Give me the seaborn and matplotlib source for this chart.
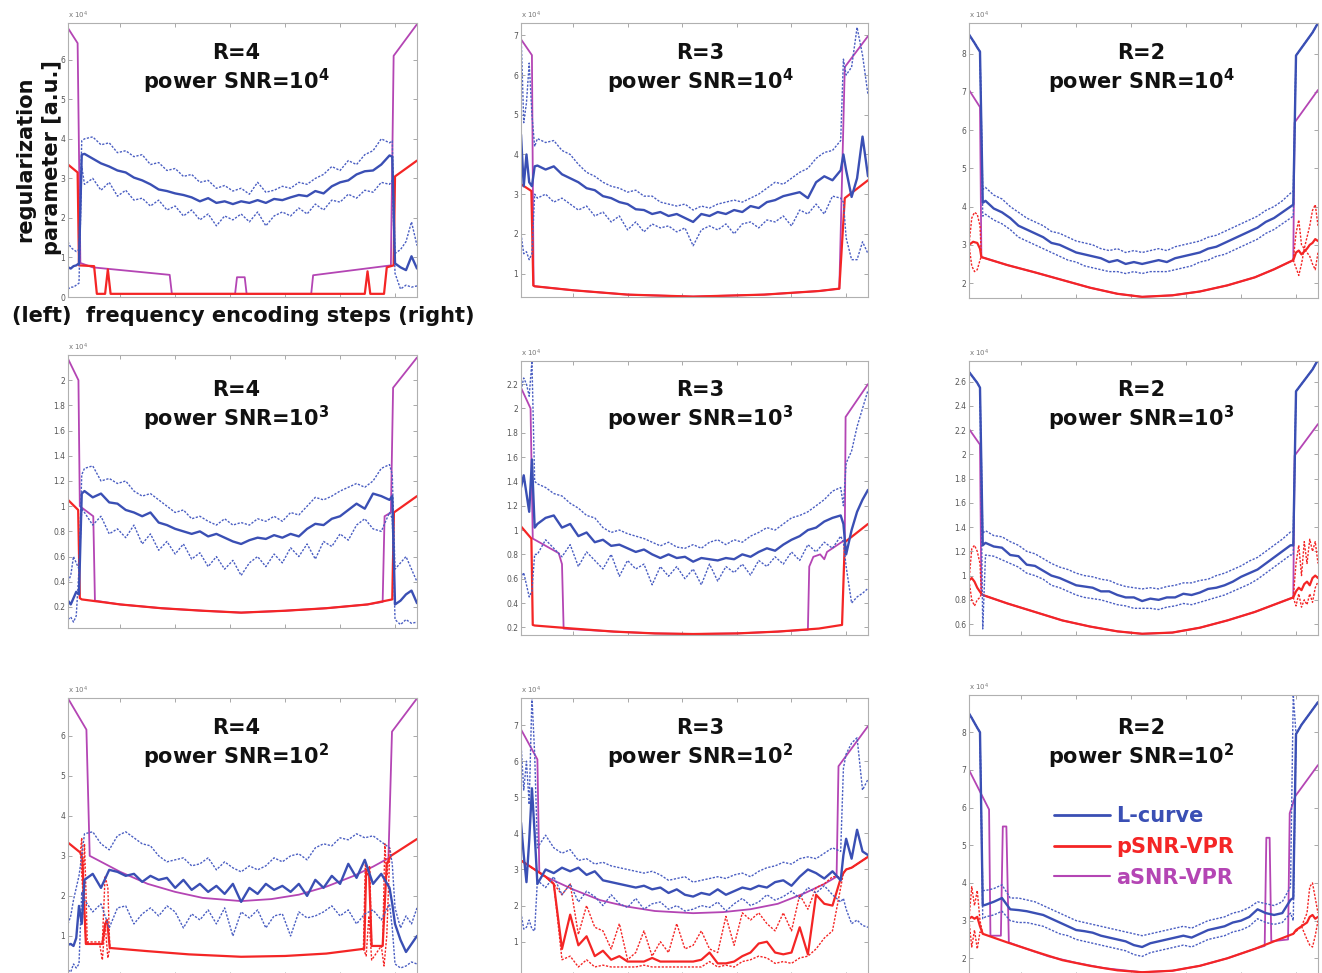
import numpy as np
import matplotlib
matplotlib.use("Agg")
import matplotlib.pyplot as plt
from matplotlib.lines import Line2D
from matplotlib.ticker import FormatStrFormatter
import seaborn as sns

# ------------------------------------------------------------------ data
# frequency-encoding step grid used by the noisy (L-curve) series
X_LEFT = [1, 2, 3, 4, 5, 6]
X_MID = [7, 10, 13, 16, 19, 22, 25, 28, 31, 34, 37, 40, 43, 46, 49, 52, 55, 58, 61,
         64, 67, 70, 73, 76, 79, 82, 85, 88, 91, 94, 97, 100, 103, 106, 109, 112, 115, 118]
X_RIGHT = [119, 120, 122, 124, 126, 128]
X_GRID = X_LEFT + X_MID + X_RIGHT

R_VALUES = [4, 3, 2]          # columns
SNR_EXPONENTS = [4, 3, 2]     # rows
LEGEND_LABELS = ["L-curve", "pSNR-VPR", "aSNR-VPR"]

# ---- R=4, power SNR=10^4
R4_S4_BLUE = [0.75, 0.72, 0.78, 0.80, 0.85, 3.60,
              3.62, 3.50, 3.38, 3.30, 3.20, 3.15, 3.02, 2.95, 2.85, 2.72,
              2.68, 2.62, 2.58, 2.52, 2.42, 2.50, 2.38, 2.42, 2.35, 2.42,
              2.38, 2.45, 2.38, 2.48, 2.45, 2.52, 2.58, 2.55, 2.68, 2.62,
              2.80, 2.90, 2.95, 3.10, 3.18, 3.20, 3.35, 3.58,
              3.55, 0.85, 0.75, 0.68, 1.03, 0.72]
R4_S4_HI = [1.40, 1.25, 1.20, 1.15, 1.20, 3.95,
            4.00, 4.05, 3.85, 3.90, 3.65, 3.70, 3.55, 3.60, 3.35, 3.40,
            3.20, 3.25, 3.05, 3.10, 2.90, 2.95, 2.75, 2.82, 2.68, 2.75,
            2.60, 2.90, 2.65, 2.70, 2.80, 2.75, 2.90, 2.85, 3.00, 3.10,
            3.30, 3.20, 3.45, 3.35, 3.60, 3.70, 4.00, 3.90,
            3.95, 1.10, 1.20, 1.40, 1.90, 1.30]
R4_S4_LO = [0.20, 0.25, 0.25, 0.30, 0.35, 3.30,
            2.85, 3.00, 2.70, 2.90, 2.55, 2.70, 2.45, 2.50, 2.30, 2.45,
            2.20, 2.30, 2.05, 2.20, 1.95, 2.10, 1.80, 2.05, 1.95, 2.10,
            1.90, 2.15, 1.80, 2.05, 2.15, 2.05, 2.25, 2.10, 2.35, 2.20,
            2.45, 2.40, 2.60, 2.50, 2.70, 2.65, 2.90, 2.85,
            2.95, 0.60, 0.20, 0.30, 0.25, 0.28]
R4_S4_RED_X = [1, 4.5, 5, 10.5, 11.5, 14.5, 15.5, 16.5, 109, 110, 111, 116, 117, 119.5, 120, 128]
R4_S4_RED_Y = [3.35, 3.15, 0.80, 0.78, 0.08, 0.08, 0.70, 0.08, 0.08, 0.65, 0.08, 0.08, 0.75, 0.80, 3.05, 3.45]
R4_S4_PUR_X = [1, 4.5, 5.5, 10, 38, 38.8, 61.8, 62.5, 65.3, 66, 89.5, 90.2, 118.5, 119.5, 128]
R4_S4_PUR_Y = [6.80, 6.42, 0.86, 0.75, 0.56, 0.08, 0.08, 0.50, 0.50, 0.08, 0.08, 0.55, 0.80, 6.10, 6.90]

# ---- R=3, power SNR=10^4
R3_S4_BLUE = [4.50, 3.20, 4.00, 3.30, 3.20, 3.70,
              3.72, 3.62, 3.70, 3.50, 3.40, 3.30, 3.15, 3.10, 2.95, 2.90,
              2.80, 2.75, 2.62, 2.60, 2.50, 2.55, 2.45, 2.50, 2.40, 2.30,
              2.50, 2.45, 2.55, 2.50, 2.60, 2.55, 2.70, 2.65, 2.80, 2.85,
              2.95, 3.00, 3.05, 2.90, 3.30, 3.45, 3.35, 3.60,
              4.00, 3.60, 2.93, 3.40, 4.45, 3.45]
R3_S4_HI = [7.10, 4.80, 5.30, 6.30, 5.00, 4.20,
            4.40, 4.30, 4.35, 4.10, 4.00, 3.75, 3.55, 3.45, 3.30, 3.20,
            3.15, 3.05, 3.10, 2.95, 2.95, 2.80, 2.75, 2.70, 2.75, 2.60,
            2.70, 2.65, 2.75, 2.80, 2.85, 2.80, 2.90, 3.00, 3.15, 3.30,
            3.25, 3.40, 3.55, 3.65, 3.90, 4.05, 4.10, 4.35,
            6.40, 6.00, 6.20, 7.20, 6.50, 5.50]
R3_S4_LO = [2.00, 1.50, 1.55, 1.35, 1.50, 3.00,
            2.90, 3.00, 2.80, 2.90, 2.75, 2.60, 2.70, 2.45, 2.55, 2.30,
            2.45, 2.10, 2.30, 2.05, 2.25, 2.15, 2.20, 2.05, 2.15, 1.70,
            2.10, 2.20, 2.10, 2.25, 2.00, 2.25, 2.30, 2.15, 2.35, 2.30,
            2.45, 2.20, 2.60, 2.50, 2.75, 2.50, 2.95, 2.90,
            2.80, 1.90, 1.35, 1.35, 1.80, 1.50]
R3_S4_RED_X = [1, 4.8, 5.5, 6, 20, 40, 64, 90, 110, 117.5, 119.5, 128]
R3_S4_RED_Y = [3.25, 3.08, 0.70, 0.68, 0.58, 0.47, 0.42, 0.47, 0.56, 0.62, 2.90, 3.35]
R3_S4_PUR_X = [1, 5, 5.6, 6, 20, 40, 64, 90, 110, 117.5, 119.5, 128]
R3_S4_PUR_Y = [6.90, 6.50, 0.70, 0.68, 0.58, 0.47, 0.42, 0.47, 0.56, 0.62, 6.20, 6.98]

# ---- R=2, power SNR=10^4
R2_S4_BLUE = [8.50, 8.39, 8.28, 8.16, 8.05, 4.10,
              4.15, 3.95, 3.85, 3.70, 3.50, 3.40, 3.30, 3.20, 3.05, 3.00,
              2.90, 2.80, 2.75, 2.70, 2.65, 2.55, 2.60, 2.50, 2.55, 2.50,
              2.55, 2.60, 2.55, 2.65, 2.70, 2.75, 2.80, 2.90, 2.95, 3.05,
              3.15, 3.25, 3.35, 3.45, 3.60, 3.70, 3.85, 4.00,
              4.05, 7.95, 8.15, 8.35, 8.55, 8.80]
R2_S4_HI = [8.50, 8.39, 8.28, 8.16, 8.05, 4.45,
            4.50, 4.30, 4.20, 4.00, 3.85, 3.70, 3.60, 3.50, 3.35, 3.30,
            3.20, 3.10, 3.05, 3.00, 2.90, 2.85, 2.90, 2.80, 2.85, 2.80,
            2.85, 2.90, 2.85, 2.95, 3.00, 3.05, 3.10, 3.20, 3.25, 3.35,
            3.45, 3.55, 3.65, 3.75, 3.90, 4.00, 4.15, 4.35,
            4.40, 7.95, 8.15, 8.35, 8.55, 8.80]
R2_S4_LO = [8.50, 8.39, 8.28, 8.16, 8.05, 3.75,
            3.80, 3.65, 3.55, 3.40, 3.20, 3.10, 3.00, 2.90, 2.80, 2.70,
            2.60, 2.55, 2.45, 2.40, 2.35, 2.30, 2.30, 2.25, 2.30, 2.25,
            2.30, 2.30, 2.30, 2.35, 2.40, 2.45, 2.55, 2.60, 2.70, 2.75,
            2.85, 2.95, 3.05, 3.15, 3.30, 3.40, 3.55, 3.70,
            3.75, 7.95, 8.15, 8.35, 8.55, 8.80]
R2_S4_RED_X = [1, 2.5, 4, 5, 5.5, 15, 25, 35, 45, 55, 64, 75, 85, 95, 105, 112, 119,
               120, 121, 122, 124, 125, 126, 127, 128]
R2_S4_RED_Y = [3.00, 3.08, 3.05, 2.90, 2.68, 2.47, 2.28, 2.08, 1.88, 1.72, 1.64, 1.68, 1.78,
               1.94, 2.15, 2.36, 2.60, 2.80, 2.85, 2.75, 2.90, 3.00, 3.05, 3.15, 3.10]
R2_S4_PUR_X = [1, 5, 5.5, 15, 25, 35, 45, 55, 64, 75, 85, 95, 105, 112, 119, 119.5, 128]
R2_S4_PUR_Y = [7.05, 6.60, 2.68, 2.47, 2.28, 2.08, 1.88, 1.72, 1.64, 1.68, 1.78, 1.94, 2.15,
               2.36, 2.60, 6.20, 7.05]
R2_S4_REDDOT_LX = [1, 2, 3, 4, 5, 5.5]
R2_S4_REDDOT_LHI = [3.00, 3.70, 3.85, 3.80, 3.50, 2.70]
R2_S4_REDDOT_LLO = [3.00, 2.45, 2.30, 2.35, 2.60, 2.70]
R2_S4_REDDOT_RX = [119, 120, 121, 122, 123, 124, 125, 126, 127, 128]
R2_S4_REDDOT_RHI = [2.60, 3.30, 3.65, 3.00, 2.90, 3.20, 3.50, 3.90, 4.05, 3.50]
R2_S4_REDDOT_RLO = [2.60, 2.40, 2.20, 2.50, 2.90, 2.80, 2.70, 2.50, 2.35, 2.80]

# ---- R=4, power SNR=10^3
R4_S3_BLUE = [0.25, 0.22, 0.27, 0.32, 0.30, 1.10,
              1.12, 1.07, 1.10, 1.03, 1.02, 0.97, 0.95, 0.92, 0.95, 0.87,
              0.85, 0.82, 0.80, 0.78, 0.80, 0.76, 0.78, 0.75, 0.72, 0.70,
              0.73, 0.75, 0.74, 0.77, 0.75, 0.78, 0.76, 0.82, 0.86, 0.85,
              0.90, 0.92, 0.97, 1.02, 0.98, 1.10, 1.08, 1.05,
              1.08, 0.22, 0.25, 0.30, 0.33, 0.23]
R4_S3_HI = [0.40, 0.45, 0.60, 0.55, 0.50, 1.25,
            1.30, 1.32, 1.20, 1.22, 1.18, 1.20, 1.12, 1.08, 1.10, 1.05,
            1.00, 0.95, 0.97, 0.90, 0.92, 0.88, 0.85, 0.90, 0.85, 0.87,
            0.85, 0.90, 0.88, 0.92, 0.88, 0.95, 0.93, 1.00, 1.07, 1.05,
            1.08, 1.12, 1.15, 1.18, 1.15, 1.20, 1.30, 1.33,
            1.25, 0.50, 0.55, 0.60, 0.50, 0.40]
R4_S3_LO = [0.10, 0.12, 0.08, 0.13, 0.50, 0.98,
            0.95, 0.85, 0.92, 0.78, 0.82, 0.75, 0.85, 0.70, 0.78, 0.65,
            0.72, 0.62, 0.70, 0.58, 0.63, 0.52, 0.60, 0.50, 0.57, 0.45,
            0.55, 0.60, 0.52, 0.62, 0.55, 0.67, 0.60, 0.70, 0.58, 0.72,
            0.68, 0.78, 0.73, 0.85, 0.90, 0.82, 0.80, 0.95,
            0.90, 0.10, 0.06, 0.10, 0.07, 0.08]
R4_S3_RED_X = [1, 4.7, 5.3, 6, 20, 35, 50, 64, 80, 95, 110, 119, 119.6, 128]
R4_S3_RED_Y = [1.05, 0.97, 0.27, 0.26, 0.22, 0.19, 0.17, 0.155, 0.17, 0.19, 0.22, 0.26, 0.95, 1.08]
R4_S3_PUR_X = [1, 4.8, 5.3, 10.2, 10.8, 20, 35, 50, 64, 80, 95, 110, 115.5, 116.2, 118.5, 119.3, 128]
R4_S3_PUR_Y = [2.17, 2.00, 1.00, 0.92, 0.25, 0.22, 0.19, 0.17, 0.155, 0.17, 0.19, 0.22, 0.24,
               0.92, 0.95, 1.94, 2.18]

# ---- R=3, power SNR=10^3
R3_S3_BLUE = [1.35, 1.45, 1.30, 1.15, 1.58, 1.02,
              1.05, 1.10, 1.12, 1.02, 1.05, 0.95, 0.98, 0.90, 0.92, 0.87,
              0.88, 0.85, 0.82, 0.84, 0.80, 0.77, 0.80, 0.77, 0.78, 0.74,
              0.77, 0.76, 0.75, 0.77, 0.76, 0.80, 0.78, 0.82, 0.85, 0.83,
              0.88, 0.92, 0.95, 1.00, 1.02, 1.07, 1.10, 1.12,
              1.05, 0.80, 1.00, 1.15, 1.25, 1.33]
R3_S3_HI = [2.15, 2.25, 2.20, 2.10, 2.39, 1.40,
            1.38, 1.35, 1.30, 1.28, 1.22, 1.18, 1.12, 1.10, 1.02, 0.98,
            1.00, 0.97, 0.95, 0.93, 0.90, 0.87, 0.90, 0.86, 0.85, 0.88,
            0.85, 0.90, 0.92, 0.88, 0.92, 0.90, 0.95, 0.98, 1.02, 1.00,
            1.05, 1.10, 1.12, 1.15, 1.20, 1.25, 1.32, 1.35,
            1.20, 1.55, 1.65, 1.85, 2.00, 2.15]
R3_S3_LO = [0.60, 0.65, 0.55, 0.45, 0.50, 0.80,
            0.80, 0.92, 0.85, 0.78, 0.88, 0.70, 0.82, 0.75, 0.68, 0.80,
            0.62, 0.75, 0.68, 0.72, 0.55, 0.70, 0.62, 0.70, 0.60, 0.68,
            0.55, 0.72, 0.58, 0.70, 0.65, 0.72, 0.63, 0.75, 0.70, 0.78,
            0.72, 0.82, 0.75, 0.88, 0.82, 0.90, 0.85, 0.95,
            0.90, 0.70, 0.40, 0.45, 0.48, 0.52]
R3_S3_RED_X = [1, 4.8, 5.3, 6, 20, 35, 50, 64, 80, 95, 110, 118.5, 119.5, 128]
R3_S3_RED_Y = [1.03, 0.93, 0.22, 0.215, 0.19, 0.165, 0.15, 0.145, 0.15, 0.165, 0.19, 0.22, 0.90, 1.05]
R3_S3_PUR_X = [1, 4.5, 5.3, 14.8, 16, 16.6, 20, 35, 50, 64, 80, 95, 106, 106.5, 108, 110.5,
               112, 113, 118.3, 119.5, 119.8, 128]
R3_S3_PUR_Y = [2.17, 2.00, 0.93, 0.81, 0.72, 0.19, 0.185, 0.165, 0.15, 0.145, 0.15, 0.165, 0.18,
               0.70, 0.78, 0.80, 0.76, 0.82, 0.90, 0.92, 1.93, 2.20]

# ---- R=2, power SNR=10^3
R2_S3_BLUE = [2.68, 2.65, 2.62, 2.59, 2.55, 1.25,
              1.27, 1.24, 1.23, 1.17, 1.16, 1.09, 1.08, 1.04, 1.00, 0.98,
              0.95, 0.92, 0.91, 0.90, 0.87, 0.87, 0.84, 0.82, 0.82, 0.79,
              0.81, 0.80, 0.82, 0.82, 0.85, 0.84, 0.86, 0.89, 0.90, 0.92,
              0.95, 0.99, 1.02, 1.05, 1.10, 1.15, 1.20, 1.25,
              1.25, 2.52, 2.58, 2.64, 2.70, 2.78]
R2_S3_HI = [2.68, 2.65, 2.62, 2.59, 2.55, 1.35,
            1.37, 1.33, 1.32, 1.28, 1.25, 1.20, 1.18, 1.14, 1.10, 1.07,
            1.05, 1.02, 1.00, 0.99, 0.97, 0.96, 0.93, 0.91, 0.90, 0.89,
            0.90, 0.89, 0.91, 0.92, 0.94, 0.94, 0.96, 0.97, 1.00, 1.02,
            1.05, 1.08, 1.12, 1.15, 1.20, 1.25, 1.30, 1.36,
            1.36, 2.52, 2.58, 2.64, 2.70, 2.78]
R2_S3_LO = [2.68, 2.65, 2.62, 2.59, 2.55, 0.56,
            1.17, 1.16, 1.13, 1.10, 1.07, 1.02, 1.00, 0.97, 0.92, 0.90,
            0.87, 0.84, 0.82, 0.81, 0.80, 0.78, 0.76, 0.75, 0.73, 0.73,
            0.73, 0.72, 0.74, 0.75, 0.77, 0.76, 0.78, 0.80, 0.82, 0.84,
            0.87, 0.90, 0.93, 0.97, 1.02, 1.07, 1.12, 1.17,
            1.17, 2.52, 2.58, 2.64, 2.70, 2.78]
R2_S3_RED_X = [1, 2, 3, 4, 5.5, 6, 15, 25, 35, 45, 55, 64, 75, 85, 95, 105, 112, 119,
               120, 121, 122, 123, 124, 125, 126, 127, 128]
R2_S3_RED_Y = [0.96, 0.98, 0.95, 0.90, 0.85, 0.84, 0.77, 0.70, 0.63, 0.58, 0.54, 0.52, 0.53,
               0.57, 0.63, 0.70, 0.76, 0.82, 0.87, 0.90, 0.88, 0.93, 0.95, 0.92, 0.98, 1.00, 0.98]
R2_S3_PUR_X = [1, 5, 5.5, 6, 15, 25, 35, 45, 55, 64, 75, 85, 95, 105, 112, 119, 119.5, 128]
R2_S3_PUR_Y = [2.21, 2.08, 0.85, 0.84, 0.77, 0.70, 0.63, 0.58, 0.54, 0.52, 0.53, 0.57, 0.63,
               0.70, 0.76, 0.82, 1.99, 2.25]
R2_S3_REDDOT_LX = [1, 2, 3, 4, 5, 5.5]
R2_S3_REDDOT_LHI = [0.96, 1.22, 1.25, 1.20, 1.10, 0.85]
R2_S3_REDDOT_LLO = [0.96, 0.80, 0.75, 0.80, 0.82, 0.85]
R2_S3_REDDOT_RX = [119, 120, 121, 122, 123, 124, 125, 126, 127, 128]
R2_S3_REDDOT_RHI = [0.82, 1.10, 1.25, 1.00, 1.28, 1.10, 1.30, 1.20, 1.28, 1.10]
R2_S3_REDDOT_RLO = [0.82, 0.75, 0.85, 0.74, 0.80, 0.76, 0.85, 0.78, 0.90, 0.95]

# ---- R=4, power SNR=10^2
R4_S2_BLUE = [0.78, 0.80, 0.75, 0.95, 1.75, 1.30,
              2.40, 2.55, 2.20, 2.65, 2.60, 2.50, 2.55, 2.35, 2.50, 2.40,
              2.45, 2.20, 2.40, 2.15, 2.30, 2.10, 2.25, 2.05, 2.30, 1.85,
              2.20, 2.05, 2.30, 2.15, 2.25, 2.10, 2.30, 2.00, 2.40, 2.20,
              2.50, 2.30, 2.80, 2.45, 2.90, 2.30, 2.55, 2.20,
              1.80, 1.30, 0.90, 0.60, 0.80, 1.00]
R4_S2_HI = [1.30, 1.50, 1.90, 2.20, 2.50, 3.00,
            3.55, 3.60, 3.30, 3.15, 3.50, 3.60, 3.45, 3.30, 3.25, 3.00,
            2.85, 2.90, 2.95, 2.75, 2.80, 2.95, 2.65, 2.85, 2.70, 2.60,
            2.75, 2.65, 2.75, 2.95, 2.85, 3.00, 3.05, 2.90, 3.20, 3.30,
            3.25, 3.45, 3.40, 3.55, 3.45, 3.50, 3.35, 3.20,
            2.80, 1.70, 1.20, 1.50, 1.30, 1.70]
R4_S2_LO = [0.15, 0.10, 0.30, 0.20, 0.30, 2.10,
            1.90, 1.60, 1.80, 1.20, 1.70, 1.75, 1.30, 1.55, 1.70, 1.50,
            1.75, 1.60, 1.20, 1.55, 1.40, 1.65, 1.30, 1.70, 1.00, 1.60,
            1.45, 1.65, 1.20, 1.50, 1.55, 1.00, 1.60, 1.45, 1.50, 1.60,
            1.75, 1.50, 1.65, 1.30, 1.55, 1.65, 1.40, 1.80,
            1.20, 0.30, 0.20, 0.25, 0.35, 0.30]
R4_S2_RED_X = [1, 5.5, 6.2, 7.5, 13.5, 14.5, 15.2, 16.2, 30, 45, 64, 80, 95, 108.8, 109.5,
               110.5, 111.5, 115.5, 117, 118.5, 128]
R4_S2_RED_Y = [3.33, 3.08, 2.95, 0.80, 0.80, 1.30, 1.40, 0.70, 0.62, 0.54, 0.48, 0.50, 0.56,
               0.68, 2.60, 2.70, 0.75, 0.75, 2.80, 3.00, 3.42]
R4_S2_PUR_X = [1, 7.7, 8.9, 20, 30, 40, 50, 64, 75, 85, 95, 105, 112, 117.6, 118.9, 128]
R4_S2_PUR_Y = [6.93, 6.15, 3.00, 2.60, 2.30, 2.10, 1.95, 1.87, 1.92, 2.03, 2.23, 2.50, 2.73,
               2.94, 6.10, 6.93]
R4_S2_REDDOT_LX1 = [5.5, 6, 6.5, 7, 7.5, 8, 13.5, 14.5, 15.5, 16.2]
R4_S2_REDDOT_LY1 = [3.08, 3.45, 2.30, 3.30, 2.20, 0.85, 0.85, 2.50, 2.20, 0.70]
R4_S2_REDDOT_LX2 = [5.5, 6.5, 7.5, 8.5, 12.5, 13.5, 14.5, 15.5, 16.2]
R4_S2_REDDOT_LY2 = [3.08, 2.00, 0.90, 0.80, 0.80, 0.40, 1.30, 0.45, 0.70]
R4_S2_REDDOT_RX1 = [108.5, 109.2, 110, 110.8, 111.5, 115.5, 116.3, 117, 118, 118.7]
R4_S2_REDDOT_RY1 = [0.68, 2.80, 2.50, 2.75, 0.75, 0.75, 3.30, 2.50, 3.20, 3.00]
R4_S2_REDDOT_RX2 = [108.5, 109.5, 110.5, 111.5, 115, 116, 117, 118]
R4_S2_REDDOT_RY2 = [0.68, 0.50, 1.50, 0.40, 0.75, 0.25, 1.00, 2.90]

# ---- R=3, power SNR=10^2
R3_S2_BLUE = [4.30, 3.40, 2.65, 3.80, 5.25, 4.00,
              2.60, 3.00, 2.90, 3.05, 2.95, 3.05, 2.85, 2.95, 2.70, 2.65,
              2.60, 2.55, 2.50, 2.55, 2.45, 2.50, 2.35, 2.45, 2.30, 2.25,
              2.35, 2.30, 2.45, 2.30, 2.40, 2.50, 2.45, 2.55, 2.50, 2.65,
              2.70, 2.55, 2.80, 3.00, 2.90, 2.75, 2.95, 2.70,
              3.40, 3.85, 3.30, 4.10, 3.50, 3.40]
R3_S2_HI = [6.50, 5.20, 6.00, 4.80, 7.80, 6.20,
            3.60, 3.95, 3.60, 3.45, 3.55, 3.25, 3.30, 3.15, 3.20, 3.10,
            3.05, 3.00, 2.95, 2.90, 2.95, 2.85, 2.70, 2.75, 2.80, 2.65,
            2.70, 2.75, 2.80, 2.75, 2.85, 2.90, 2.80, 2.95, 3.05, 3.10,
            3.20, 3.15, 3.30, 3.35, 3.30, 3.45, 3.60, 3.50,
            5.80, 6.20, 6.50, 6.65, 5.20, 5.50]
R3_S2_LO = [1.80, 1.35, 1.40, 1.60, 1.35, 1.30,
            2.70, 2.50, 2.80, 2.30, 2.60, 2.10, 2.40, 2.25, 2.00, 2.30,
            2.05, 1.95, 2.20, 1.90, 2.05, 2.10, 1.90, 2.00, 1.85, 1.90,
            2.00, 1.95, 2.10, 1.85, 2.05, 2.20, 2.00, 2.10, 2.30, 2.15,
            2.25, 2.40, 2.20, 2.50, 2.35, 2.55, 2.30, 2.10,
            2.20, 1.90, 1.50, 1.60, 1.45, 1.40]
R3_S2_RED = [3.25, 3.20, 3.15, 3.10, 3.05, 3.00,
             2.95, 2.80, 2.60, 0.80, 1.75, 0.90, 1.15, 0.60, 0.75, 0.50,
             0.60, 0.45, 0.45, 0.45, 0.55, 0.45, 0.45, 0.45, 0.45, 0.45,
             0.50, 0.70, 0.40, 0.40, 0.45, 0.60, 0.70, 0.95, 1.00, 0.70,
             0.65, 0.70, 1.40, 0.65, 2.30, 2.05, 2.00, 2.75,
             2.90, 3.00, 3.05, 3.15, 3.25, 3.35]
R3_S2_RED_HI = [3.25, 3.20, 3.15, 3.10, 3.05, 3.00,
                2.95, 2.80, 2.60, 2.30, 2.60, 1.20, 2.00, 1.40, 1.30, 0.80,
                1.50, 0.50, 0.70, 1.30, 0.60, 1.00, 0.70, 1.50, 0.80, 0.90,
                1.30, 0.80, 0.70, 1.70, 0.90, 1.80, 1.60, 1.80, 1.50, 1.30,
                1.80, 1.30, 2.30, 1.90, 2.50, 2.60, 2.80, 2.80,
                2.90, 3.00, 3.05, 3.15, 3.25, 3.35]
R3_S2_RED_LO = [3.25, 3.20, 3.15, 3.10, 3.05, 3.00,
                2.95, 2.80, 2.60, 0.50, 0.60, 0.30, 0.50, 0.30, 0.35, 0.30,
                0.30, 0.30, 0.30, 0.35, 0.30, 0.30, 0.30, 0.30, 0.30, 0.30,
                0.30, 0.45, 0.30, 0.35, 0.30, 0.45, 0.50, 0.60, 0.55, 0.40,
                0.45, 0.40, 0.55, 0.60, 0.80, 1.10, 1.30, 2.50,
                2.90, 3.00, 3.05, 3.15, 3.25, 3.35]
R3_S2_PUR_X = [1, 7, 7.7, 10, 20, 30, 40, 50, 64, 75, 85, 95, 105, 112, 116.5, 117.2, 128]
R3_S2_PUR_Y = [6.88, 6.05, 2.92, 2.80, 2.45, 2.15, 1.97, 1.85, 1.79, 1.82, 1.90, 2.05, 2.35,
               2.60, 2.80, 5.86, 6.97]

# ---- R=2, power SNR=10^2
R2_S2_BLUE = [8.50, 8.38, 8.25, 8.12, 8.00, 3.40,
              3.42, 3.50, 3.60, 3.30, 3.28, 3.25, 3.20, 3.15, 3.05, 2.95,
              2.85, 2.75, 2.72, 2.68, 2.60, 2.55, 2.50, 2.45, 2.35, 2.30,
              2.40, 2.45, 2.50, 2.55, 2.60, 2.55, 2.65, 2.75, 2.80, 2.85,
              2.95, 3.00, 3.10, 3.30, 3.20, 3.15, 3.20, 3.55,
              3.60, 7.95, 8.20, 8.40, 8.60, 8.80]
R2_S2_HI = [8.50, 8.38, 8.25, 8.12, 8.00, 3.80,
            3.80, 3.85, 3.95, 3.60, 3.60, 3.55, 3.50, 3.40, 3.30, 3.20,
            3.10, 3.00, 2.95, 2.90, 2.85, 2.80, 2.75, 2.70, 2.65, 2.60,
            2.65, 2.70, 2.75, 2.80, 2.85, 2.80, 2.90, 3.00, 3.05, 3.10,
            3.20, 3.25, 3.35, 3.50, 3.45, 3.40, 3.50, 3.90,
            9.00, 7.95, 8.20, 8.40, 8.60, 8.80]
R2_S2_LO = [8.50, 8.38, 8.25, 8.12, 8.00, 3.05,
            3.10, 3.15, 3.25, 3.00, 2.95, 2.95, 2.90, 2.85, 2.75, 2.65,
            2.60, 2.50, 2.45, 2.40, 2.35, 2.30, 2.25, 2.20, 2.10, 2.05,
            2.15, 2.20, 2.25, 2.30, 2.35, 2.30, 2.40, 2.50, 2.55, 2.60,
            2.70, 2.75, 2.85, 3.05, 2.95, 2.90, 2.95, 3.20,
            3.00, 7.95, 8.20, 8.40, 8.60, 8.80]
R2_S2_RED_X = [1, 2, 3, 4, 5, 6, 15, 25, 35, 45, 55, 64, 75, 85, 95, 105, 112, 119,
               120, 122, 124, 125, 126, 127, 128]
R2_S2_RED_Y = [3.05, 3.10, 3.05, 3.10, 2.85, 2.65, 2.42, 2.18, 1.95, 1.80, 1.68, 1.63, 1.67,
               1.80, 2.00, 2.25, 2.45, 2.65, 2.75, 2.85, 2.95, 3.10, 3.15, 3.05, 3.10]
R2_S2_PUR_X = [1, 8.3, 8.8, 12.6, 13.3, 14.6, 15.5, 20, 30, 40, 50, 64, 75, 85, 95, 105,
               108.6, 109.2, 110.4, 111, 117.1, 117.7, 119.7, 128]
R2_S2_PUR_Y = [7.00, 5.95, 2.60, 2.60, 5.50, 5.50, 2.42, 2.30, 2.05, 1.88, 1.74, 1.63, 1.67,
               1.80, 2.00, 2.25, 2.33, 5.20, 5.20, 2.45, 2.50, 5.85, 6.30, 7.13]
R2_S2_REDDOT_LX = [1, 2, 3, 4, 5, 6]
R2_S2_REDDOT_LHI = [3.05, 3.90, 3.40, 3.80, 3.00, 2.65]
R2_S2_REDDOT_LLO = [3.00, 2.30, 2.75, 2.25, 2.70, 2.65]
R2_S2_REDDOT_RX = [119, 122, 124, 125, 126, 127, 128]
R2_S2_REDDOT_RHI = [2.65, 2.85, 3.20, 3.90, 4.00, 3.60, 3.20]
R2_S2_REDDOT_RLO = [2.65, 2.85, 2.50, 2.35, 2.30, 2.60, 3.00]

# ------------------------------------------------------------------ panels
PANELS = [
    dict(row=0, col=0, blue=R4_S4_BLUE, hi=R4_S4_HI, lo=R4_S4_LO,
         red=(R4_S4_RED_X, R4_S4_RED_Y), pur=(R4_S4_PUR_X, R4_S4_PUR_Y), reddot=[]),
    dict(row=0, col=1, blue=R3_S4_BLUE, hi=R3_S4_HI, lo=R3_S4_LO,
         red=(R3_S4_RED_X, R3_S4_RED_Y), pur=(R3_S4_PUR_X, R3_S4_PUR_Y), reddot=[]),
    dict(row=0, col=2, blue=R2_S4_BLUE, hi=R2_S4_HI, lo=R2_S4_LO,
         red=(R2_S4_RED_X, R2_S4_RED_Y), pur=(R2_S4_PUR_X, R2_S4_PUR_Y),
         reddot=[(R2_S4_REDDOT_LX, R2_S4_REDDOT_LHI), (R2_S4_REDDOT_LX, R2_S4_REDDOT_LLO),
                 (R2_S4_REDDOT_RX, R2_S4_REDDOT_RHI), (R2_S4_REDDOT_RX, R2_S4_REDDOT_RLO)]),
    dict(row=1, col=0, blue=R4_S3_BLUE, hi=R4_S3_HI, lo=R4_S3_LO,
         red=(R4_S3_RED_X, R4_S3_RED_Y), pur=(R4_S3_PUR_X, R4_S3_PUR_Y), reddot=[]),
    dict(row=1, col=1, blue=R3_S3_BLUE, hi=R3_S3_HI, lo=R3_S3_LO,
         red=(R3_S3_RED_X, R3_S3_RED_Y), pur=(R3_S3_PUR_X, R3_S3_PUR_Y), reddot=[]),
    dict(row=1, col=2, blue=R2_S3_BLUE, hi=R2_S3_HI, lo=R2_S3_LO,
         red=(R2_S3_RED_X, R2_S3_RED_Y), pur=(R2_S3_PUR_X, R2_S3_PUR_Y),
         reddot=[(R2_S3_REDDOT_LX, R2_S3_REDDOT_LHI), (R2_S3_REDDOT_LX, R2_S3_REDDOT_LLO),
                 (R2_S3_REDDOT_RX, R2_S3_REDDOT_RHI), (R2_S3_REDDOT_RX, R2_S3_REDDOT_RLO)]),
    dict(row=2, col=0, blue=R4_S2_BLUE, hi=R4_S2_HI, lo=R4_S2_LO,
         red=(R4_S2_RED_X, R4_S2_RED_Y), pur=(R4_S2_PUR_X, R4_S2_PUR_Y),
         reddot=[(R4_S2_REDDOT_LX1, R4_S2_REDDOT_LY1), (R4_S2_REDDOT_LX2, R4_S2_REDDOT_LY2),
                 (R4_S2_REDDOT_RX1, R4_S2_REDDOT_RY1), (R4_S2_REDDOT_RX2, R4_S2_REDDOT_RY2)]),
    dict(row=2, col=1, blue=R3_S2_BLUE, hi=R3_S2_HI, lo=R3_S2_LO,
         red=(X_GRID, R3_S2_RED), pur=(R3_S2_PUR_X, R3_S2_PUR_Y),
         reddot=[(X_GRID, R3_S2_RED_HI), (X_GRID, R3_S2_RED_LO)]),
    dict(row=2, col=2, blue=R2_S2_BLUE, hi=R2_S2_HI, lo=R2_S2_LO,
         red=(R2_S2_RED_X, R2_S2_RED_Y), pur=(R2_S2_PUR_X, R2_S2_PUR_Y),
         reddot=[(R2_S2_REDDOT_LX, R2_S2_REDDOT_LHI), (R2_S2_REDDOT_LX, R2_S2_REDDOT_LLO),
                 (R2_S2_REDDOT_RX, R2_S2_REDDOT_RHI), (R2_S2_REDDOT_RX, R2_S2_REDDOT_RLO)]),
]

# ------------------------------------------------------------------ layout / style
W, H = 1322, 973
# axes boxes in pixels (left, top, right, bottom)
BOXES = {
    (0, 0): (68, 23, 417, 297), (0, 1): (521, 23, 868, 297), (0, 2): (969, 23, 1318, 298),
    (1, 0): (68, 355, 417, 628), (1, 1): (521, 361, 868, 635), (1, 2): (969, 361, 1318, 635),
    (2, 0): (68, 698, 417, 976), (2, 1): (521, 698, 868, 976), (2, 2): (969, 695, 1318, 976),
}
YLIMS = {
    (0, 0): (0.0, 6.93), (0, 1): (0.41, 7.31), (0, 2): (1.61, 8.8),
    (1, 0): (0.033, 2.2), (1, 1): (0.137, 2.39), (1, 2): (0.51, 2.77),
    (2, 0): (0.0, 6.94), (2, 1): (0.05, 7.75), (2, 2): (1.53, 8.99),
}
YTICKS = {
    (0, 0): np.arange(0, 7), (0, 1): np.arange(1, 8), (0, 2): np.arange(2, 9),
    (1, 0): np.round(np.arange(0.2, 2.01, 0.2), 1), (1, 1): np.round(np.arange(0.2, 2.21, 0.2), 1),
    (1, 2): np.round(np.arange(0.6, 2.61, 0.2), 1),
    (2, 0): np.arange(1, 7), (2, 1): np.arange(1, 8), (2, 2): np.arange(2, 9),
}
COL_CX = [236, 700, 1141]
ROW_BASE = [(59, 89), (396, 426), (734, 764)]

BLUE = "#3a4fb4"
BLUE_DOT = "#4a5ec2"
RED = "#f42525"
PURPLE = "#b445b4"
DOTS = (0, (1.6, 1.1))

sns.set_style("white")
plt.rcParams["font.family"] = ["DejaVu Sans"]
plt.rcParams["mathtext.fontset"] = "dejavusans"

fig = plt.figure(figsize=(W / 100, H / 100), dpi=100)
fig.patch.set_facecolor("white")


def fx(px):
    return px / W


def fy(py):
    return 1 - py / H


def line(ax, x, y, color, lw, ls="-"):
    assert len(x) == len(y), (len(x), len(y))
    sns.lineplot(x=list(x), y=list(y), ax=ax, color=color, linewidth=lw, linestyle=ls,
                 estimator=None, sort=False, legend=False)


for p in PANELS:
    key = (p["row"], p["col"])
    l, t, r, b = BOXES[key]
    ax = fig.add_axes([fx(l), fy(b), (r - l) / W, (b - t) / H])

    line(ax, *p["pur"], PURPLE, 1.3)
    line(ax, *p["red"], RED, 1.6)
    for seg in p["reddot"]:
        line(ax, *seg, RED, 1.0, DOTS)
    line(ax, X_GRID, p["hi"], BLUE_DOT, 1.0, DOTS)
    line(ax, X_GRID, p["lo"], BLUE_DOT, 1.0, DOTS)
    line(ax, X_GRID, p["blue"], BLUE, 1.7)

    ax.set_xlim(1, 128)
    ax.set_ylim(*YLIMS[key])
    ax.set_xticks([20, 40, 60, 80, 100, 120])
    ax.set_xticklabels([])
    ax.set_yticks(YTICKS[key])
    ax.yaxis.set_major_formatter(FormatStrFormatter("%g"))
    ax.set_xlabel("")
    ax.set_ylabel("")
    ax.tick_params(direction="in", length=3, width=0.6, color="#9a9a9a", labelcolor="#555555",
                   labelsize=5.5, pad=2, top=True, right=True, bottom=True, left=True)
    for s in ax.spines.values():
        s.set_color("#b0b0b0")
        s.set_linewidth(0.8)
    ax.text(0.0, 1.006, "x 10$^{4}$", transform=ax.transAxes, fontsize=5, color="#777777",
            ha="left", va="bottom")

    cx = COL_CX[p["col"]]
    b1, b2 = ROW_BASE[p["row"]]
    fig.text(fx(cx), fy(b1), f"R={R_VALUES[p['col']]}", fontsize=15, fontweight="bold",
             ha="center", va="baseline", color="#111111")
    fig.text(fx(cx), fy(b2), "power SNR=10$^{\\mathbf{%d}}$" % SNR_EXPONENTS[p["row"]],
             fontsize=15, fontweight="bold", ha="center", va="baseline", color="#111111")

    if key == (2, 2):
        handles = [Line2D([0], [0], color=BLUE, lw=2.0),
                   Line2D([0], [0], color=RED, lw=2.0),
                   Line2D([0], [0], color=PURPLE, lw=1.5)]
        ax.legend(handles, LEGEND_LABELS, loc="upper left",
                  bbox_to_anchor=(fx(1054), fy(806)), bbox_transform=fig.transFigure,
                  frameon=False, handlelength=2.7, handletextpad=0.3, labelspacing=0.52,
                  borderpad=0, borderaxespad=0, prop={"weight": "bold", "size": 15},
                  labelcolor=[BLUE, RED, PURPLE])

# shared axis annotations (top-left panel)
fig.text(fx(25), fy(159), "regularization", rotation=90, fontsize=15, fontweight="bold",
         ha="center", va="center", color="#111111")
fig.text(fx(52), fy(158), "parameter [a.u.]", rotation=90, fontsize=15, fontweight="bold",
         ha="center", va="center", color="#111111")
fig.text(fx(12), fy(322), "(left)  frequency encoding steps (right)", fontsize=15,
         fontweight="bold", ha="left", va="baseline", color="#111111")

fig.savefig("out.png", dpi=100, facecolor="white")
